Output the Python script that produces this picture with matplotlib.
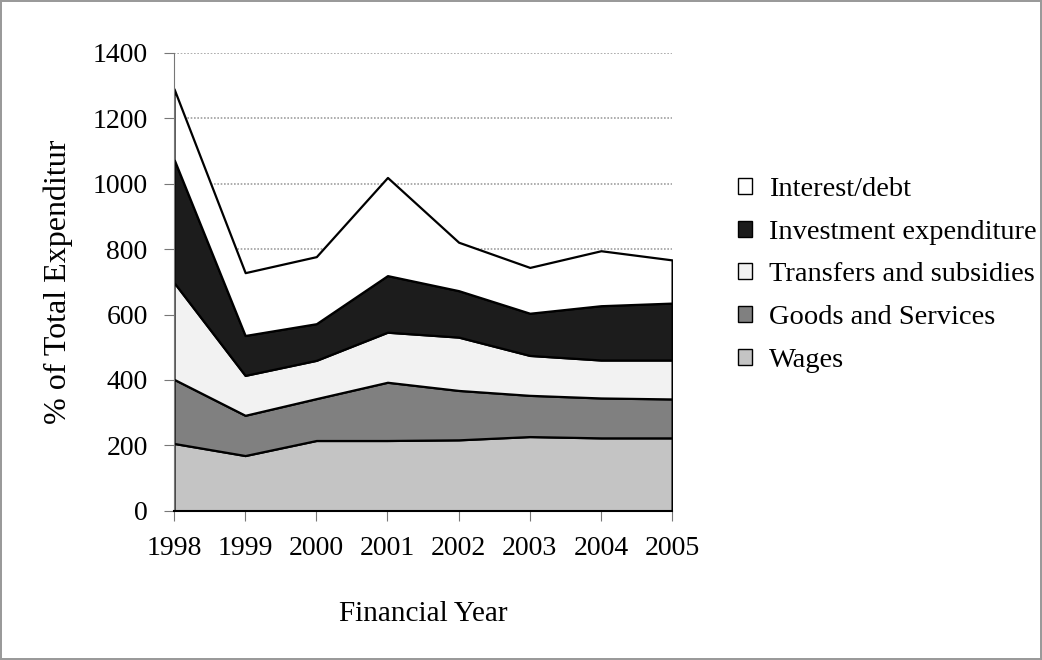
import numpy as np
import matplotlib.pyplot as plt

# values
years = [1998, 1999, 2000, 2001, 2002, 2003, 2004, 2005]
wages = [206, 169, 215, 215, 217, 227, 223, 223]
goods = [196, 123, 128, 178, 151, 126, 122, 119]
transfers = [296, 122, 117, 153, 163, 122, 116, 119]
investment = [377, 122, 112, 173, 142, 129, 166, 174]
interest = [215, 192, 205, 300, 148, 140, 168, 132]

labels = ["Wages", "Goods and Services", "Transfers and subsidies",
          "Investment expenditure", "Interest/debt"]
colors = ["#c4c4c4", "#808080", "#f2f2f2", "#1c1c1c", "#ffffff"]

plt.rcParams['font.family'] = ['Liberation Serif', 'DejaVu Serif']

fig = plt.figure(figsize=(10.42, 6.6), dpi=100)
fig.patch.set_edgecolor("#9a9a9a")
fig.patch.set_linewidth(1.5)
ax = fig.add_axes([0.167, 0.226, 0.478, 0.694])

polys = ax.stackplot(years, wages, goods, transfers, investment, interest,
                     colors=colors, edgecolor="black", linewidth=1.6,
                     labels=labels, zorder=2)

ax.set_xlim(1998, 2005)
ax.set_ylim(0, 1400)
ax.set_yticks(np.arange(0, 1401, 200))
ax.set_xticks(years)
ax.tick_params(axis='both', labelsize=20, length=7, color="#777777")
ax.tick_params(axis='x', pad=11)
ax.tick_params(axis='y', pad=12)
ax.yaxis.grid(True, color="#a0a0a0", linewidth=1.2, linestyle=(0, (1, 1)), zorder=1)
ax.set_axisbelow(True)
for s in ["top", "right"]:
    ax.spines[s].set_visible(False)
ax.spines["left"].set_color("#777777")
ax.spines["bottom"].set_color("black")
ax.spines["bottom"].set_linewidth(1.5)

ax.set_xlabel("Financial Year", fontsize=21, labelpad=29)
ax.set_ylabel("% of Total Expenditur", fontsize=23, labelpad=14)

handles, labs = ax.get_legend_handles_labels()
leg = ax.legend(handles[::-1], labs[::-1], loc="center left",
                bbox_to_anchor=(1.08, 0.515), frameon=False, fontsize=20.5,
                handlelength=0.5, handleheight=0.5, handletextpad=0.6,
                labelspacing=0.62)
for h in leg.legend_handles:
    h.set_edgecolor("black")
    h.set_linewidth(1.0)

fig.savefig("out.png", dpi=100, edgecolor=fig.get_edgecolor())
